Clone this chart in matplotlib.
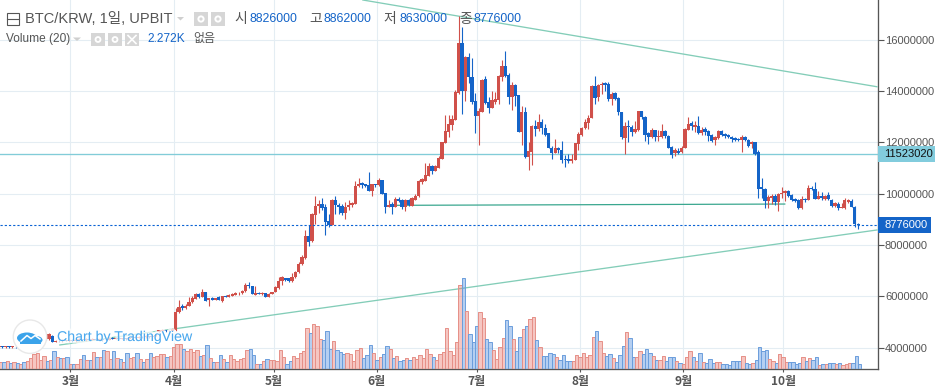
import numpy as np
import matplotlib
matplotlib.use('Agg')
import matplotlib.pyplot as plt
import matplotlib.patheffects as pe
from matplotlib.patches import Rectangle, Circle, Ellipse, Polygon

# daily candles, first one is 21 days before 1 March, prices in 10000 KRW
first_day = -21
opens = [
    402, 404, 402, 405, 402, 403, 401, 404, 402, 406,
    410, 416, 422, 430, 436, 433, 446, 423, 427, 424,
    428, 426, 429, 425, 428, 432, 429, 433, 431, 435,
    430, 432, 429, 431, 437, 435, 438, 434, 436, 433,
    437, 441, 438, 442, 440, 444, 441, 445, 462, 463,
    467, 463, 463, 468, 537, 561, 553, 563, 576, 589,
    610, 596, 618, 584, 592, 587, 595, 581, 602, 596,
    602, 606, 611, 611, 619, 644, 641, 606, 614, 608,
    613, 598, 608, 616, 631, 660, 671, 670, 658, 675,
    693, 726, 747, 835, 814, 918, 950, 960, 946, 891,
    879, 973, 957, 951, 923, 947, 955, 958, 1030, 1040,
    1036, 1032, 1009, 1039, 1032, 1052, 1001, 947, 958, 947,
    977, 974, 948, 974, 952, 974, 991, 1045, 1049, 1069,
    1108, 1088, 1101, 1135, 1198, 1240, 1266, 1287, 1391, 1586,
    1400, 1532, 1455, 1359, 1302, 1318, 1445, 1356, 1334, 1356,
    1364, 1455, 1497, 1460, 1376, 1423, 1384, 1239, 1317, 1142,
    1161, 1265, 1252, 1278, 1257, 1234, 1179, 1159, 1177, 1169,
    1134, 1134, 1126, 1130, 1192, 1227, 1256, 1276, 1294, 1419,
    1376, 1421, 1429, 1426, 1369, 1391, 1374, 1318, 1216, 1264,
    1261, 1240, 1248, 1320, 1300, 1235, 1222, 1248, 1222, 1222,
    1244, 1226, 1181, 1157, 1165, 1160, 1177, 1248, 1274, 1261,
    1264, 1234, 1251, 1242, 1228, 1207, 1217, 1244, 1231, 1229,
    1221, 1216, 1213, 1208, 1221, 1209, 1191, 1199, 1160, 1025,
    1018, 969, 984, 991, 966, 997, 1001, 1010, 995, 978,
    975, 944, 980, 975, 1023, 1018, 980, 991, 978, 993,
    975, 952, 961, 943, 943, 968, 969, 949, 882,
]
closes = [
    404, 402, 405, 402, 403, 401, 404, 402, 406, 410,
    416, 422, 430, 436, 433, 453, 423, 427, 424, 428,
    426, 429, 425, 428, 432, 429, 433, 431, 435, 430,
    432, 429, 431, 437, 435, 438, 434, 436, 433, 437,
    441, 438, 442, 440, 444, 441, 445, 450, 467, 467,
    463, 466, 472, 540, 558, 553, 563, 579, 592, 610,
    596, 618, 583, 592, 587, 592, 584, 601, 596, 606,
    609, 613, 614, 621, 644, 639, 608, 613, 608, 614,
    598, 610, 617, 634, 661, 674, 665, 658, 675, 696,
    727, 751, 836, 813, 921, 951, 960, 942, 888, 878,
    973, 955, 947, 923, 949, 957, 962, 1031, 1039, 1032,
    1030, 1009, 1039, 1035, 1052, 999, 947, 957, 948, 977,
    971, 948, 974, 954, 983, 992, 1048, 1056, 1071, 1108,
    1088, 1108, 1139, 1200, 1243, 1270, 1290, 1395, 1586, 1399,
    1532, 1455, 1356, 1302, 1320, 1442, 1351, 1334, 1364, 1367,
    1458, 1497, 1458, 1376, 1423, 1380, 1239, 1317, 1142, 1164,
    1265, 1252, 1278, 1256, 1227, 1177, 1159, 1177, 1168, 1130,
    1129, 1127, 1133, 1196, 1231, 1257, 1278, 1296, 1419, 1374,
    1421, 1428, 1424, 1368, 1389, 1368, 1317, 1220, 1264, 1259,
    1240, 1252, 1320, 1300, 1229, 1222, 1248, 1222, 1225, 1244,
    1225, 1178, 1152, 1168, 1159, 1177, 1251, 1272, 1265, 1268,
    1234, 1248, 1239, 1226, 1203, 1222, 1244, 1229, 1224, 1220,
    1213, 1208, 1208, 1221, 1207, 1186, 1199, 1155, 1018, 1016,
    969, 988, 991, 966, 999, 1001, 1008, 991, 975, 971,
    944, 978, 973, 1023, 1017, 980, 991, 981, 991, 978,
    953, 962, 943, 947, 975, 975, 949, 882, 877.6,
]
highs = [
    406, 407, 407, 407, 406, 405, 406, 406, 409, 413,
    420, 427, 436, 440, 441, 457, 448, 430, 431, 432,
    431, 432, 433, 431, 436, 435, 437, 436, 438, 437,
    435, 434, 434, 441, 440, 442, 440, 439, 438, 440,
    444, 443, 445, 444, 447, 446, 448, 454, 470, 471,
    469, 468, 476, 554, 587, 570, 571, 598, 601, 612,
    612, 627, 618, 593, 596, 593, 602, 602, 606, 610,
    612, 616, 618, 625, 653, 654, 641, 640, 616, 618,
    614, 613, 618, 638, 674, 677, 672, 671, 692, 700,
    733, 762, 856, 878, 926, 992, 975, 983, 960, 921,
    980, 990, 963, 960, 966, 973, 968, 1048, 1062, 1043,
    1039, 1083, 1039, 1039, 1060, 1052, 1001, 974, 966, 985,
    986, 980, 980, 980, 988, 997, 1052, 1059, 1117, 1117,
    1110, 1110, 1145, 1202, 1305, 1305, 1305, 1403, 1690, 1647,
    1534, 1547, 1527, 1393, 1335, 1445, 1458, 1377, 1400, 1397,
    1460, 1520, 1555, 1470, 1434, 1428, 1384, 1342, 1338, 1200,
    1266, 1286, 1309, 1289, 1270, 1237, 1185, 1212, 1180, 1204,
    1150, 1155, 1153, 1198, 1240, 1260, 1290, 1305, 1421, 1458,
    1428, 1434, 1433, 1434, 1396, 1396, 1376, 1318, 1280, 1287,
    1268, 1281, 1321, 1323, 1303, 1240, 1256, 1248, 1248, 1272,
    1248, 1229, 1184, 1177, 1176, 1184, 1255, 1298, 1284, 1281,
    1303, 1258, 1258, 1248, 1231, 1226, 1248, 1248, 1235, 1233,
    1225, 1220, 1216, 1229, 1226, 1212, 1203, 1202, 1170, 1060,
    1021, 994, 999, 999, 1001, 1025, 1012, 1013, 999, 982,
    978, 991, 983, 1034, 1029, 1045, 1008, 1004, 995, 1006,
    978, 967, 966, 962, 984, 979, 979, 951, 886,
]
lows = [
    399, 400, 400, 399, 400, 398, 399, 400, 400, 404,
    408, 414, 420, 427, 430, 431, 421, 421, 421, 422,
    424, 423, 422, 423, 426, 427, 427, 428, 429, 428,
    428, 427, 427, 429, 432, 433, 432, 432, 431, 431,
    435, 436, 436, 437, 438, 439, 439, 443, 460, 460,
    461, 461, 463, 466, 535, 546, 551, 560, 573, 589,
    594, 596, 580, 563, 584, 584, 584, 579, 595, 595,
    601, 605, 606, 610, 618, 631, 608, 604, 607, 604,
    596, 598, 607, 615, 628, 645, 660, 657, 657, 672,
    692, 723, 746, 795, 813, 882, 923, 934, 839, 869,
    878, 921, 921, 918, 899, 934, 948, 958, 1026, 1020,
    1026, 1009, 991, 1026, 1031, 999, 925, 947, 922, 947,
    966, 941, 932, 952, 952, 973, 987, 1039, 1048, 1068,
    1075, 1087, 1100, 1133, 1196, 1220, 1247, 1285, 1388, 1311,
    1360, 1429, 1350, 1237, 1188, 1318, 1348, 1315, 1334, 1350,
    1350, 1440, 1455, 1350, 1325, 1341, 1239, 1188, 1137, 1091,
    1110, 1225, 1245, 1230, 1224, 1177, 1134, 1159, 1156, 1117,
    1104, 1120, 1120, 1130, 1169, 1225, 1252, 1252, 1294, 1350,
    1360, 1389, 1400, 1362, 1346, 1365, 1304, 1213, 1155, 1199,
    1226, 1236, 1245, 1291, 1205, 1191, 1218, 1205, 1203, 1218,
    1218, 1177, 1140, 1145, 1155, 1157, 1176, 1246, 1248, 1238,
    1233, 1229, 1229, 1205, 1199, 1190, 1214, 1226, 1218, 1216,
    1199, 1204, 1204, 1160, 1203, 1183, 1178, 1152, 982, 982,
    943, 945, 960, 956, 930, 984, 970, 988, 971, 968,
    939, 940, 968, 973, 1014, 977, 977, 975, 975, 975,
    949, 949, 936, 942, 941, 965, 946, 869, 863,
]
# volume in thousands
volumes = [
    3.2, 3.2, 3.6, 2.7, 3.2, 2.6, 2.3, 3.2, 3.6, 5.0,
    6.8, 7.2, 4.1, 5.9, 3.6, 4.1, 8.1, 5.4, 5.0, 5.0,
    5.4, 2.3, 2.3, 2.3, 4.5, 6.3, 4.1, 4.1, 7.7, 5.4,
    5.6, 8.6, 8.1, 4.5, 8.1, 5.0, 4.5, 3.2, 7.2, 5.0,
    5.4, 7.2, 4.5, 3.2, 4.5, 7.2, 5.4, 5.9, 6.8, 6.8,
    5.4, 5.9, 9.9, 11.3, 11.3, 9.0, 8.1, 9.0, 7.7, 8.6,
    5.9, 6.3, 10.8, 5.0, 3.2, 3.2, 6.3, 4.5, 3.2, 6.3,
    4.5, 3.6, 4.5, 5.0, 8.6, 9.0, 6.3, 2.3, 2.3, 3.6,
    4.5, 4.1, 4.1, 3.6, 8.6, 5.4, 2.3, 3.6, 5.9, 5.0,
    7.2, 8.1, 18.5, 16.2, 20.3, 19.4, 13.5, 13.1, 17.1, 9.0,
    12.6, 8.6, 7.7, 6.8, 7.2, 6.8, 3.8, 8.6, 9.5, 5.0,
    6.3, 10.8, 7.2, 4.1, 5.4, 6.8, 10.4, 9.0, 5.0, 5.9,
    3.6, 4.1, 5.0, 4.1, 5.4, 4.5, 6.3, 5.0, 9.0, 6.8,
    5.4, 4.1, 6.8, 7.7, 18.5, 8.1, 6.3, 12.2, 37.8, 41.0,
    26.1, 15.8, 12.2, 19.4, 25.7, 23.0, 13.5, 12.2, 8.6, 4.5,
    9.9, 14.0, 22.1, 19.4, 13.5, 8.1, 14.4, 18.0, 19.4, 22.5,
    23.4, 13.1, 9.9, 5.9, 5.9, 7.2, 6.8, 5.4, 4.1, 6.3,
    3.6, 3.6, 3.6, 6.3, 5.4, 7.2, 5.4, 6.3, 14.4, 17.1,
    12.6, 7.2, 5.9, 6.8, 4.8, 3.0, 6.3, 10.4, 16.5, 13.8,
    5.4, 5.4, 8.0, 6.8, 9.0, 7.2, 5.9, 4.1, 4.1, 5.9,
    3.6, 5.4, 5.4, 3.6, 2.7, 2.3, 5.4, 8.1, 5.4, 3.6,
    7.2, 3.2, 2.7, 4.5, 2.7, 3.2, 3.2, 2.3, 2.3, 1.8,
    3.6, 3.6, 3.6, 5.9, 2.7, 2.3, 2.7, 4.1, 9.9, 8.1,
    8.6, 4.5, 3.6, 2.7, 6.8, 5.4, 3.2, 3.2, 3.2, 2.3,
    2.7, 5.4, 3.6, 5.0, 4.1, 5.4, 1.8, 2.3, 2.3, 2.7,
    2.7, 2.3, 2.7, 1.8, 2.3, 2.7, 2.7, 5.9, 2.3,
]
month_days = [0, 31, 61, 92, 122, 153, 184, 214]
month_labels = ['3월', '4월', '5월', '6월', '7월', '8월', '9월', '10월']
price_ticks = [400, 600, 800, 1000, 1200, 1400, 1600]

# drawn lines as (day, price)
upper_trend = ([87.8, 242.2], [1754, 1416])
lower_trend = ([-3.2, 242.2], [410, 858])
flat_trend = ([98, 214.5], [954, 959])
level_price = 1152.302
last_price = 877.6

RED = '#d0504a'
BLUE = '#1464c8'
GRID = '#e4edf3'
TXT = '#555555'

o = np.array(opens) * 1e4
c = np.array(closes) * 1e4
h = np.array(highs) * 1e4
l = np.array(lows) * 1e4
v = np.array(volumes)
days = first_day + np.arange(len(o))
up = c >= o
colors = np.where(up, RED, BLUE)

latin = ['Liberation Sans', 'Noto Sans CJK KR']

fig = plt.figure(figsize=(9.36, 3.89), dpi=100)
ax = fig.add_axes([0, 20 / 389, 878 / 936, 369 / 389])
ax.set_xlim(-21.17, 242.5)
ax.set_ylim(316.3e4, 1754e4)
ax.set_axisbelow(True)
ax.grid(color=GRID, lw=0.8)

# candles sit a little left of their day, as in the screenshot
cx = days - 0.45
ax.vlines(cx, l, h, colors=colors, lw=0.8, zorder=4)
ax.bar(cx, np.maximum(np.abs(c - o), 2e4), bottom=np.minimum(o, c), width=0.98, color=colors, lw=0, zorder=5)

ax.plot(upper_trend[0], np.array(upper_trend[1]) * 1e4, color='#83cdb8', lw=0.95, zorder=3)
ax.plot(lower_trend[0], np.array(lower_trend[1]) * 1e4, color='#83cdb8', lw=0.95, zorder=3)
ax.plot(flat_trend[0], np.array(flat_trend[1]) * 1e4, color='#3aa78f', lw=0.9, zorder=3)
ax.axhline(level_price * 1e4, color='#82ccd8', lw=0.95, zorder=3)
ax.axhline(last_price * 1e4, color='#0b63d4', lw=0.8, ls=(0, (2, 1.8)), zorder=6)

for s in ['top', 'left']:
    ax.spines[s].set_visible(False)
for s in ['right', 'bottom']:
    ax.spines[s].set_color(TXT)
    ax.spines[s].set_linewidth(0.95)
ax.yaxis.tick_right()
ax.set_yticks(np.array(price_ticks) * 1e4)
ax.set_yticklabels([str(p * 10000) for p in price_ticks], family=latin, fontsize=8.0, color=TXT)
ax.tick_params(axis='y', length=4, width=0.8, color=TXT, pad=1)
ax.set_xticks(month_days)
ax.set_xticklabels(month_labels, family=['Noto Sans CJK KR'], fontsize=8.6, fontweight='bold', color=TXT)
ax.tick_params(axis='x', length=2.5, width=0.8, color=TXT, pad=1.5)

# price labels on the axis
ytr = ax.get_yaxis_transform()
box_h = 16 * 3.896e4
ax.add_patch(Rectangle((1, level_price * 1e4 - box_h / 2), 57 / 878, box_h, transform=ytr, clip_on=False, color='#82ccdd', lw=0, zorder=10))
ax.add_patch(Rectangle((1, last_price * 1e4 - box_h / 2), 53 / 878, box_h, transform=ytr, clip_on=False, color=BLUE, lw=0, zorder=10))
ax.text(1 + 6 / 878, level_price * 1e4, '11523020', transform=ytr, family=latin, fontsize=8.0, color='#111111', va='center', zorder=11)
ax.text(1 + 6 / 878, last_price * 1e4, '8776000', transform=ytr, family=latin, fontsize=8.0, color='white', va='center', zorder=11)

# volume on its own hidden scale
vx = fig.add_axes(ax.get_position(), facecolor='none')
vx.set_xlim(ax.get_xlim())
vx.set_ylim(0, 166)
vx.axis('off')
fills = np.where(up, '#e8786e', '#4f8ede')
edges = np.where(up, '#e69088', '#6c9edc')
vx.bar(days, v, width=1.0, color=fills, alpha=0.42, lw=0)
vx.bar(days, v, width=1.0, fill=False, edgecolor=edges, lw=0.7)

# overlay in pixel coordinates for the header and the watermark
top = fig.add_axes([0, 0, 1, 1], facecolor='none')
top.set_xlim(0, 936)
top.set_ylim(389, 0)
top.axis('off')


def hdr(x, y, s, color=TXT, size=8.9):
    top.text(x, y, s, family=latin, fontsize=size, color=color, va='center', ha='left')


top.add_patch(Rectangle((6.5, 12.5), 12, 12, fill=False, edgecolor=TXT, lw=0.8))
top.plot([6.5, 18.5], [18.5, 18.5], color=TXT, lw=0.8)
hdr(25, 19, 'BTC/KRW, 1일, UPBIT', size=10.5)
top.add_patch(Polygon([(177, 17), (184, 17), (180.5, 20.5)], color='#cfcfcf', lw=0))
for bx in [194, 211]:
    top.add_patch(Rectangle((bx, 12), 14, 14, color='#d6d6d6', lw=0))
    top.add_patch(Circle((bx + 7, 19), 3.6, color='white', lw=0))
    top.add_patch(Circle((bx + 7, 19), 1.6, color='#d6d6d6', lw=0))
hdr(234, 19, '시', size=10)
hdr(249, 19, '8826000', BLUE)
hdr(309, 19, '고', size=10)
hdr(324, 19, '8862000', BLUE)
hdr(383, 19, '저', size=10)
hdr(399, 19, '8630000', BLUE)
hdr(459, 19, '종', size=10)
hdr(473, 19, '8776000', BLUE)

hdr(6, 39, 'Volume (20)', size=8.6)
top.add_patch(Polygon([(73, 37.5), (81, 37.5), (77, 41)], color='#cfcfcf', lw=0))
for bx in [91, 108, 125]:
    top.add_patch(Rectangle((bx, 33), 14, 13, color='#d6d6d6', lw=0))
for bx in [91, 108]:
    top.add_patch(Circle((bx + 7, 39.5), 3.4, color='white', lw=0))
    top.add_patch(Circle((bx + 7, 39.5), 1.5, color='#d6d6d6', lw=0))
top.plot([128, 136], [35.5, 43.5], color='white', lw=1.2)
top.plot([128, 136], [43.5, 35.5], color='white', lw=1.2)
hdr(147, 39, '2.272K', BLUE, 8.6)
hdr(193, 39, '없음', size=8.6)

top.add_patch(Circle((30, 336.7), 16.7, facecolor='white', edgecolor='#e8e8e8', lw=1.0))
cloud = '#3ba3ea'
top.add_patch(Ellipse((27, 338), 20, 11, color=cloud, lw=0))
top.add_patch(Ellipse((36, 340), 13, 8, color=cloud, lw=0))
top.add_patch(Rectangle((20, 340), 21, 3.5, color=cloud, lw=0))
top.plot([21, 27, 31, 35, 40], [341, 335.5, 338.5, 335.5, 339], color='white', lw=1.1)
top.text(57, 337, 'Chart by TradingView', family=['Liberation Sans'], fontsize=10.2, color='#4aa8ee', va='center', ha='left',
         path_effects=[pe.withStroke(linewidth=3.5, foreground='white', alpha=0.75)])

fig.savefig('out.png', dpi=100)
